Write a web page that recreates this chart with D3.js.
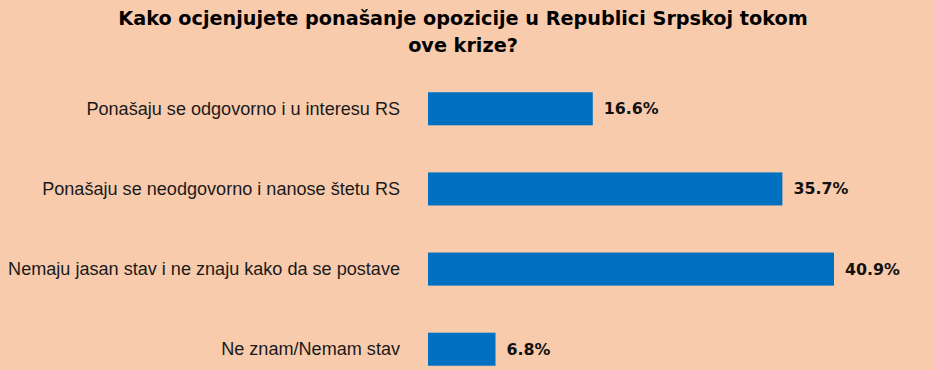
<!DOCTYPE html>
<html>
<head>
<meta charset="utf-8">
<script src="https://cdn.jsdelivr.net/npm/d3@7"></script>
<style>
	html, body { margin: 0; padding: 0; background: #f8cbad; }
	#app { width: 934px; height: 370px; }
</style>
</head>
<body>
<div id="app"></div>
<script>
// data
const titleLines = ['Kako ocjenjujete ponašanje opozicije u Republici Srpskoj tokom', 'ove krize?'];
const categories = [
	'Ponašaju se odgovorno i u interesu RS',
	'Ponašaju se neodgovorno i nanose štetu RS',
	'Nemaju jasan stav i ne znaju kako da se postave',
	'Ne znam/Nemam stav'
];
const values = [16.6, 35.7, 40.9, 6.8];

const outerWidth = 934,
	outerHeight = 370,
	margin = { top: 69, right: 0, bottom: 0, left: 428 };

// shrink/grow a text selection so its widest member is `target` px wide
function fitWidth (sel, target) {
	let size = +sel.attr('font-size'),
		w = d3.max(sel.nodes(), n => n.getComputedTextLength());
	sel.attr('font-size', size * target / w);
}

const svg = d3.select('#app').append('svg')
	.attr('width', outerWidth)
	.attr('height', outerHeight)
	.style('font-family', '"DejaVu Sans", sans-serif');

svg.append('rect')
	.attr('width', outerWidth)
	.attr('height', outerHeight)
	.attr('fill', '#f8cbad');

const title = svg.append('g')
	.selectAll('text')
	.data(titleLines)
	.enter().append('text')
		.attr('x', 463)
		.attr('y', (d, i) => 25 + i * 27)
		.attr('text-anchor', 'middle')
		.attr('font-weight', 'bold')
		.attr('font-size', 20)
		.attr('fill', '#000')
		.text(d => d);
fitWidth(title, 690);

const x = d3.scaleLinear()
	.domain([0, 40.9])
	.range([0, 406]);

const y = d3.scaleBand()
	.domain(categories)
	.range([0, 320])
	.paddingInner(0.5875)
	.paddingOuter(0.29);

const graph = svg.append('g')
	.attr('transform', `translate(${ margin.left }, ${ margin.top })`);

graph.selectAll('rect.bar')
	.data(values)
	.enter().append('rect')
		.attr('class', 'bar')
		.attr('x', 0)
		.attr('y', (d, i) => y(categories[i]))
		.attr('width', d => x(d))
		.attr('height', y.bandwidth())
		.attr('fill', '#0070c0');

// category labels
const labels = graph.append('g')
	.call(d3.axisLeft(y).tickSize(0).tickPadding(28))
	.call(g => g.select('.domain').remove())
	.selectAll('text')
		.attr('font-size', 16)
		.attr('font-family', null)
		.attr('fill', '#1a1a1a');
fitWidth(labels, 392);

// value labels
const vals = graph.selectAll('text.val')
	.data(values)
	.enter().append('text')
		.attr('class', 'val')
		.attr('x', d => x(d) + 11)
		.attr('y', (d, i) => y(categories[i]) + y.bandwidth() / 2)
		.attr('dy', '0.35em')
		.attr('font-weight', 'bold')
		.attr('font-size', 15)
		.attr('fill', '#111')
		.text(d => d.toFixed(1) + '%');
fitWidth(vals, 55);
</script>
</body>
</html>
